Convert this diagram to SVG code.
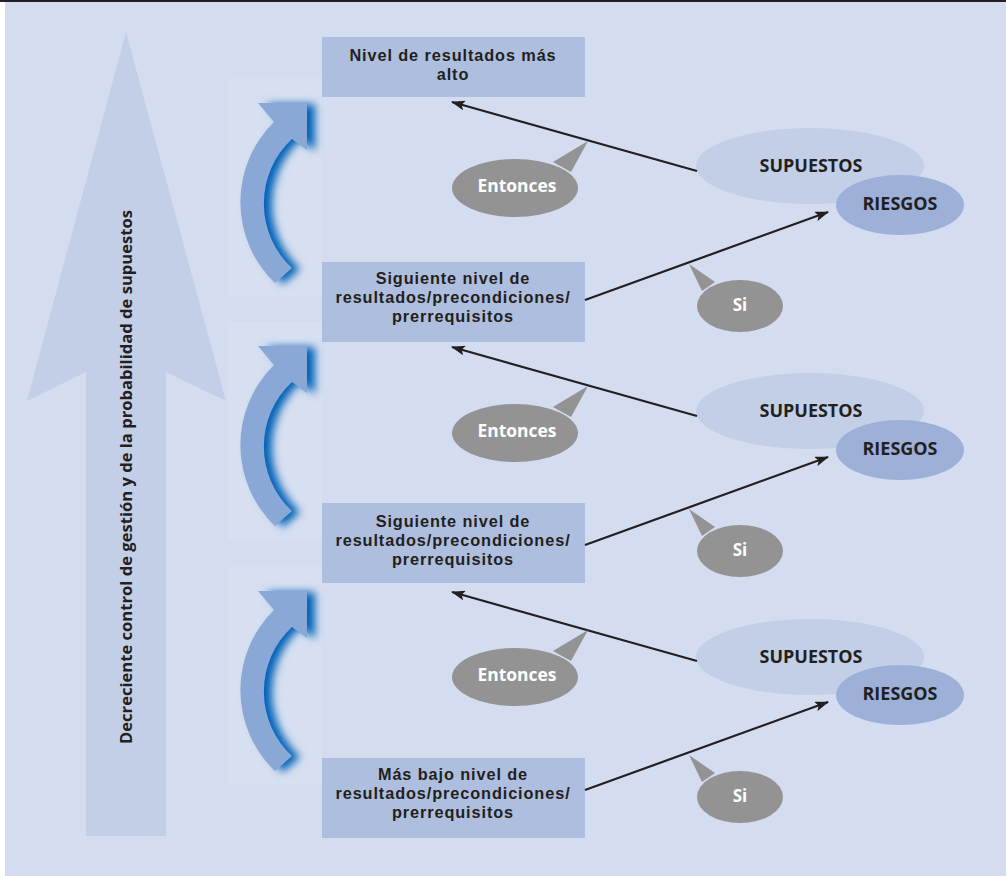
<svg xmlns="http://www.w3.org/2000/svg" width="1006" height="876" viewBox="0 0 1006 876">
<style>
.t{font-family:"Open Sans","Liberation Sans",sans-serif;font-weight:bold;fill:#231f20;text-anchor:middle}
.bt{font-family:"Liberation Sans","Open Sans",sans-serif;font-weight:bold;fill:#231f20;text-anchor:middle;font-size:16.3px;letter-spacing:0.9px}
.w{font-family:"Open Sans","Liberation Sans",sans-serif;font-weight:bold;fill:#ffffff;text-anchor:middle;font-size:17px}
.box{fill:#adbede}
.sup{fill:#c3cfe6}
.rie{fill:#9cb0d8}
.bub{fill:#939393}
.con{stroke:#231f20;stroke-width:2.2;fill:none;marker-end:url(#ah)}
.carrow{fill:#8aa8d6}
.glow{fill:#0062b8;filter:url(#blur)}
.halo{fill:#d7e0f0}
</style>
<defs>
<marker id="ah" viewBox="0 0 14 10" refX="13" refY="5" markerWidth="14" markerHeight="10" markerUnits="userSpaceOnUse" orient="auto">
<path d="M0,0 L14,5 L0,10 L3,5 Z" fill="#231f20"/>
</marker>
<filter id="blur" x="-30%" y="-30%" width="160%" height="160%">
<feGaussianBlur stdDeviation="4"/>
</filter>
<path id="cshape" d="M 275 283 A 112 112 0 0 1 274 122 L 258 103 L 307 103 L 307 150 L 292 139 A 88 88 0 0 0 292 268 Z"/>
</defs>
<rect x="0" y="0" width="1006" height="876" fill="#ffffff"/>
<rect x="5" y="2" width="1001" height="874" fill="#d3ddef"/>
<rect x="0" y="0" width="1006" height="2" fill="#231f20"/>

<g id="big-arrow">
<path d="M126 32 L226 401 L166 372 L166 836 L86 836 L86 372 L27 401 Z" fill="#c3cfe6"/>
<text class="t" font-size="16" transform="translate(132,477) rotate(-90)" textLength="534" lengthAdjust="spacingAndGlyphs">Decreciente control de gestión y de la probabilidad de supuestos</text>
</g>

<g id="curved-arrow-1">
<rect class="halo" x="228" y="79" width="94" height="217"/>
<use href="#cshape" class="glow" transform="translate(8,1)"/>
<use href="#cshape" class="carrow"/>
</g>
<g id="curved-arrow-2" transform="translate(0,243)">
<rect class="halo" x="228" y="79" width="94" height="217"/>
<use href="#cshape" class="glow" transform="translate(8,1)"/>
<use href="#cshape" class="carrow"/>
</g>
<g id="curved-arrow-3" transform="translate(0,488)">
<rect class="halo" x="228" y="79" width="94" height="217"/>
<use href="#cshape" class="glow" transform="translate(8,1)"/>
<use href="#cshape" class="carrow"/>
</g>

<g id="box-1">
<rect class="box" x="322" y="37" width="263" height="60"/>
<text class="bt"><tspan x="453" y="61">Nivel de resultados más</tspan><tspan x="453" y="80">alto</tspan></text>
</g>
<g id="box-2">
<rect class="box" x="322" y="262" width="263" height="80"/>
<text class="bt"><tspan x="453" y="284">Siguiente nivel de</tspan><tspan x="453" y="303">resultados/precondiciones/</tspan><tspan x="453" y="322">prerrequisitos</tspan></text>
</g>
<g id="box-3">
<rect class="box" x="322" y="503" width="263" height="80"/>
<text class="bt"><tspan x="453" y="527">Siguiente nivel de</tspan><tspan x="453" y="546">resultados/precondiciones/</tspan><tspan x="453" y="565">prerrequisitos</tspan></text>
</g>
<g id="box-4">
<rect class="box" x="322" y="758" width="263" height="80"/>
<text class="bt"><tspan x="453" y="780">Más bajo nivel de</tspan><tspan x="453" y="799">resultados/precondiciones/</tspan><tspan x="453" y="818">prerrequisitos</tspan></text>
</g>

<g id="supuestos-1">
<ellipse class="sup" cx="810" cy="166" rx="114" ry="38"/>
<text class="t" font-size="17" x="811" y="172" textLength="103" lengthAdjust="spacingAndGlyphs">SUPUESTOS</text>
</g>
<g id="riesgos-1">
<ellipse class="rie" cx="900" cy="205" rx="64" ry="30"/>
<text class="t" font-size="17" x="900" y="210" textLength="75" lengthAdjust="spacingAndGlyphs">RIESGOS</text>
</g>
<g id="supuestos-2">
<ellipse class="sup" cx="810" cy="411" rx="114" ry="38"/>
<text class="t" font-size="17" x="811" y="417" textLength="103" lengthAdjust="spacingAndGlyphs">SUPUESTOS</text>
</g>
<g id="riesgos-2">
<ellipse class="rie" cx="900" cy="450" rx="64" ry="30"/>
<text class="t" font-size="17" x="900" y="455" textLength="75" lengthAdjust="spacingAndGlyphs">RIESGOS</text>
</g>
<g id="supuestos-3">
<ellipse class="sup" cx="810" cy="657" rx="114" ry="38"/>
<text class="t" font-size="17" x="811" y="663" textLength="103" lengthAdjust="spacingAndGlyphs">SUPUESTOS</text>
</g>
<g id="riesgos-3">
<ellipse class="rie" cx="900" cy="695" rx="64" ry="30"/>
<text class="t" font-size="17" x="900" y="700" textLength="75" lengthAdjust="spacingAndGlyphs">RIESGOS</text>
</g>

<g id="connectors">
<line class="con" x1="697" y1="171" x2="452" y2="102"/>
<line class="con" x1="585" y1="300" x2="828" y2="212"/>
<line class="con" x1="697" y1="416" x2="452" y2="347"/>
<line class="con" x1="585" y1="545" x2="828" y2="457"/>
<line class="con" x1="697" y1="661" x2="452" y2="592"/>
<line class="con" x1="585" y1="790" x2="828" y2="702"/>
</g>

<g id="entonces-1">
<ellipse class="bub" cx="515" cy="188" rx="63" ry="29"/>
<path class="bub" d="M553 162 L588 141 L571 172 Z"/>
<text class="w" x="517" y="192" textLength="79" lengthAdjust="spacingAndGlyphs">Entonces</text>
</g>
<g id="entonces-2">
<ellipse class="bub" cx="515" cy="433" rx="63" ry="29"/>
<path class="bub" d="M553 407 L588 386 L571 417 Z"/>
<text class="w" x="517" y="437" textLength="79" lengthAdjust="spacingAndGlyphs">Entonces</text>
</g>
<g id="entonces-3">
<ellipse class="bub" cx="515" cy="677" rx="63" ry="29"/>
<path class="bub" d="M553 651 L588 630 L571 661 Z"/>
<text class="w" x="517" y="681" textLength="79" lengthAdjust="spacingAndGlyphs">Entonces</text>
</g>
<g id="si-1">
<ellipse class="bub" cx="740" cy="306" rx="43" ry="26"/>
<path class="bub" d="M702 291 L689 264 L715 282 Z"/>
<text class="w" x="740" y="311">Si</text>
</g>
<g id="si-2">
<ellipse class="bub" cx="740" cy="551" rx="43" ry="26"/>
<path class="bub" d="M702 536 L689 509 L715 527 Z"/>
<text class="w" x="740" y="556">Si</text>
</g>
<g id="si-3">
<ellipse class="bub" cx="740" cy="797" rx="43" ry="26"/>
<path class="bub" d="M702 782 L689 755 L715 773 Z"/>
<text class="w" x="740" y="802">Si</text>
</g>
</svg>
